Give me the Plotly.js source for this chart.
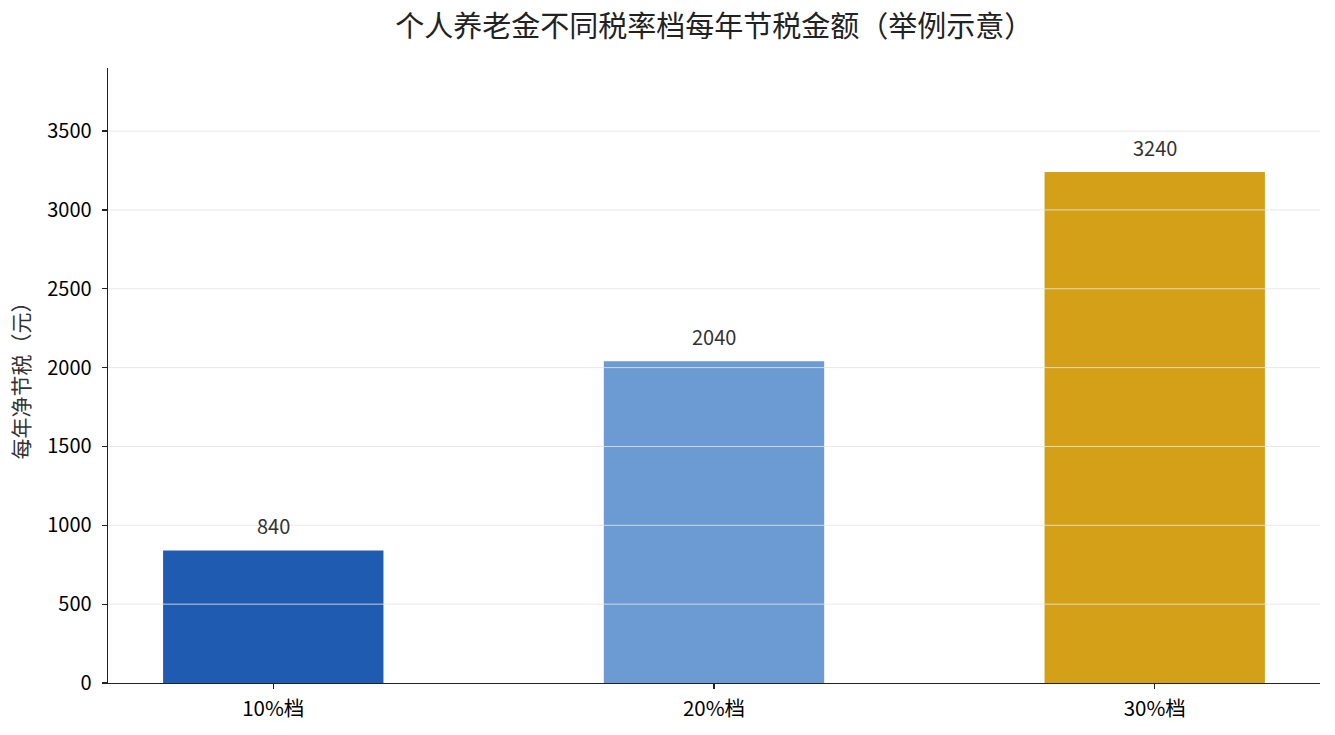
<!DOCTYPE html>
<html>
<head>
<meta charset="utf-8">
<script src="https://cdn.plot.ly/plotly-3.0.1.min.js"></script>
<style>
  html, body { margin:0; padding:0; background:#fff; }
  #chart { width:1335px; height:735px; }
</style>
</head>
<body>
<div id="chart"></div>
<script>
// ── Data ────────────────────────────────────────────────────
const brackets  = ['10%档', '20%档', '30%档'];
const savings   = [840, 2040, 3240];
const barColors = ['#1f5bb0', '#6b9bd2', '#d4a017'];
const yTicks    = [0, 500, 1000, 1500, 2000, 2500, 3000, 3500];

const FONT = '"Noto Sans CJK SC", "Noto Sans", sans-serif';
const AXIS = '#222222';

// grid drawn above the bars, like the source
const gridShapes = yTicks.filter(v => v > 0).map(v => ({
  type:'line', xref:'paper', yref:'y', x0:0, x1:1, y0:v, y1:v,
  layer:'above', line:{color:'rgba(228,228,228,0.85)', width:1}
}));

const labels = brackets.map((b, i) => ({
  x:b, y:savings[i], xref:'x', yref:'y',
  text:String(savings[i]), showarrow:false,
  yanchor:'middle', yshift:25,
  font:{family:FONT, size:20, color:'#333333'}
}));

Plotly.newPlot('chart', [{
  type:'bar',
  x: brackets,
  y: savings,
  width:0.5,
  marker:{color:barColors, line:{width:0}},
  hoverinfo:'x+y',
}], {
  width:1335, height:735,
  paper_bgcolor:'#ffffff', plot_bgcolor:'#ffffff',
  margin:{l:108, r:15, t:68, b:52},
  font:{family:FONT, color:'#111111'},
  title:{
    text:'个人养老金不同税率档每年节税金额（举例示意）',
    font:{family:FONT, size:29, color:'#222222'},
    x:0.535, xanchor:'center', y:0.963, yanchor:'middle'
  },
  showlegend:false,
  xaxis:{
    type:'category',
    range:[-0.375, 2.375],
    showline:true, linecolor:AXIS, linewidth:1.4,
    ticks:'outside', ticklen:5, tickwidth:1.2, tickcolor:AXIS,
    tickfont:{family:FONT, size:20.5, color:'#000000'},
    ticklabelstandoff:2,
    showgrid:false, zeroline:false, fixedrange:true,
  },
  yaxis:{
    range:[0, 3900],
    tickvals:yTicks,
    showline:true, linecolor:AXIS, linewidth:1.4,
    ticks:'outside', ticklen:5, tickwidth:1.2, tickcolor:AXIS,
    tickfont:{family:FONT, size:20, color:'#000000'},
    ticklabelstandoff:6,
    showgrid:false, zeroline:false,
    title:{text:'每年净节税（元）', font:{family:FONT, size:21, color:'#333333'}, standoff:12},
  },
  shapes:gridShapes,
  annotations:labels,
}, {displayModeBar:false, staticPlot:true});
</script>
</body>
</html>
